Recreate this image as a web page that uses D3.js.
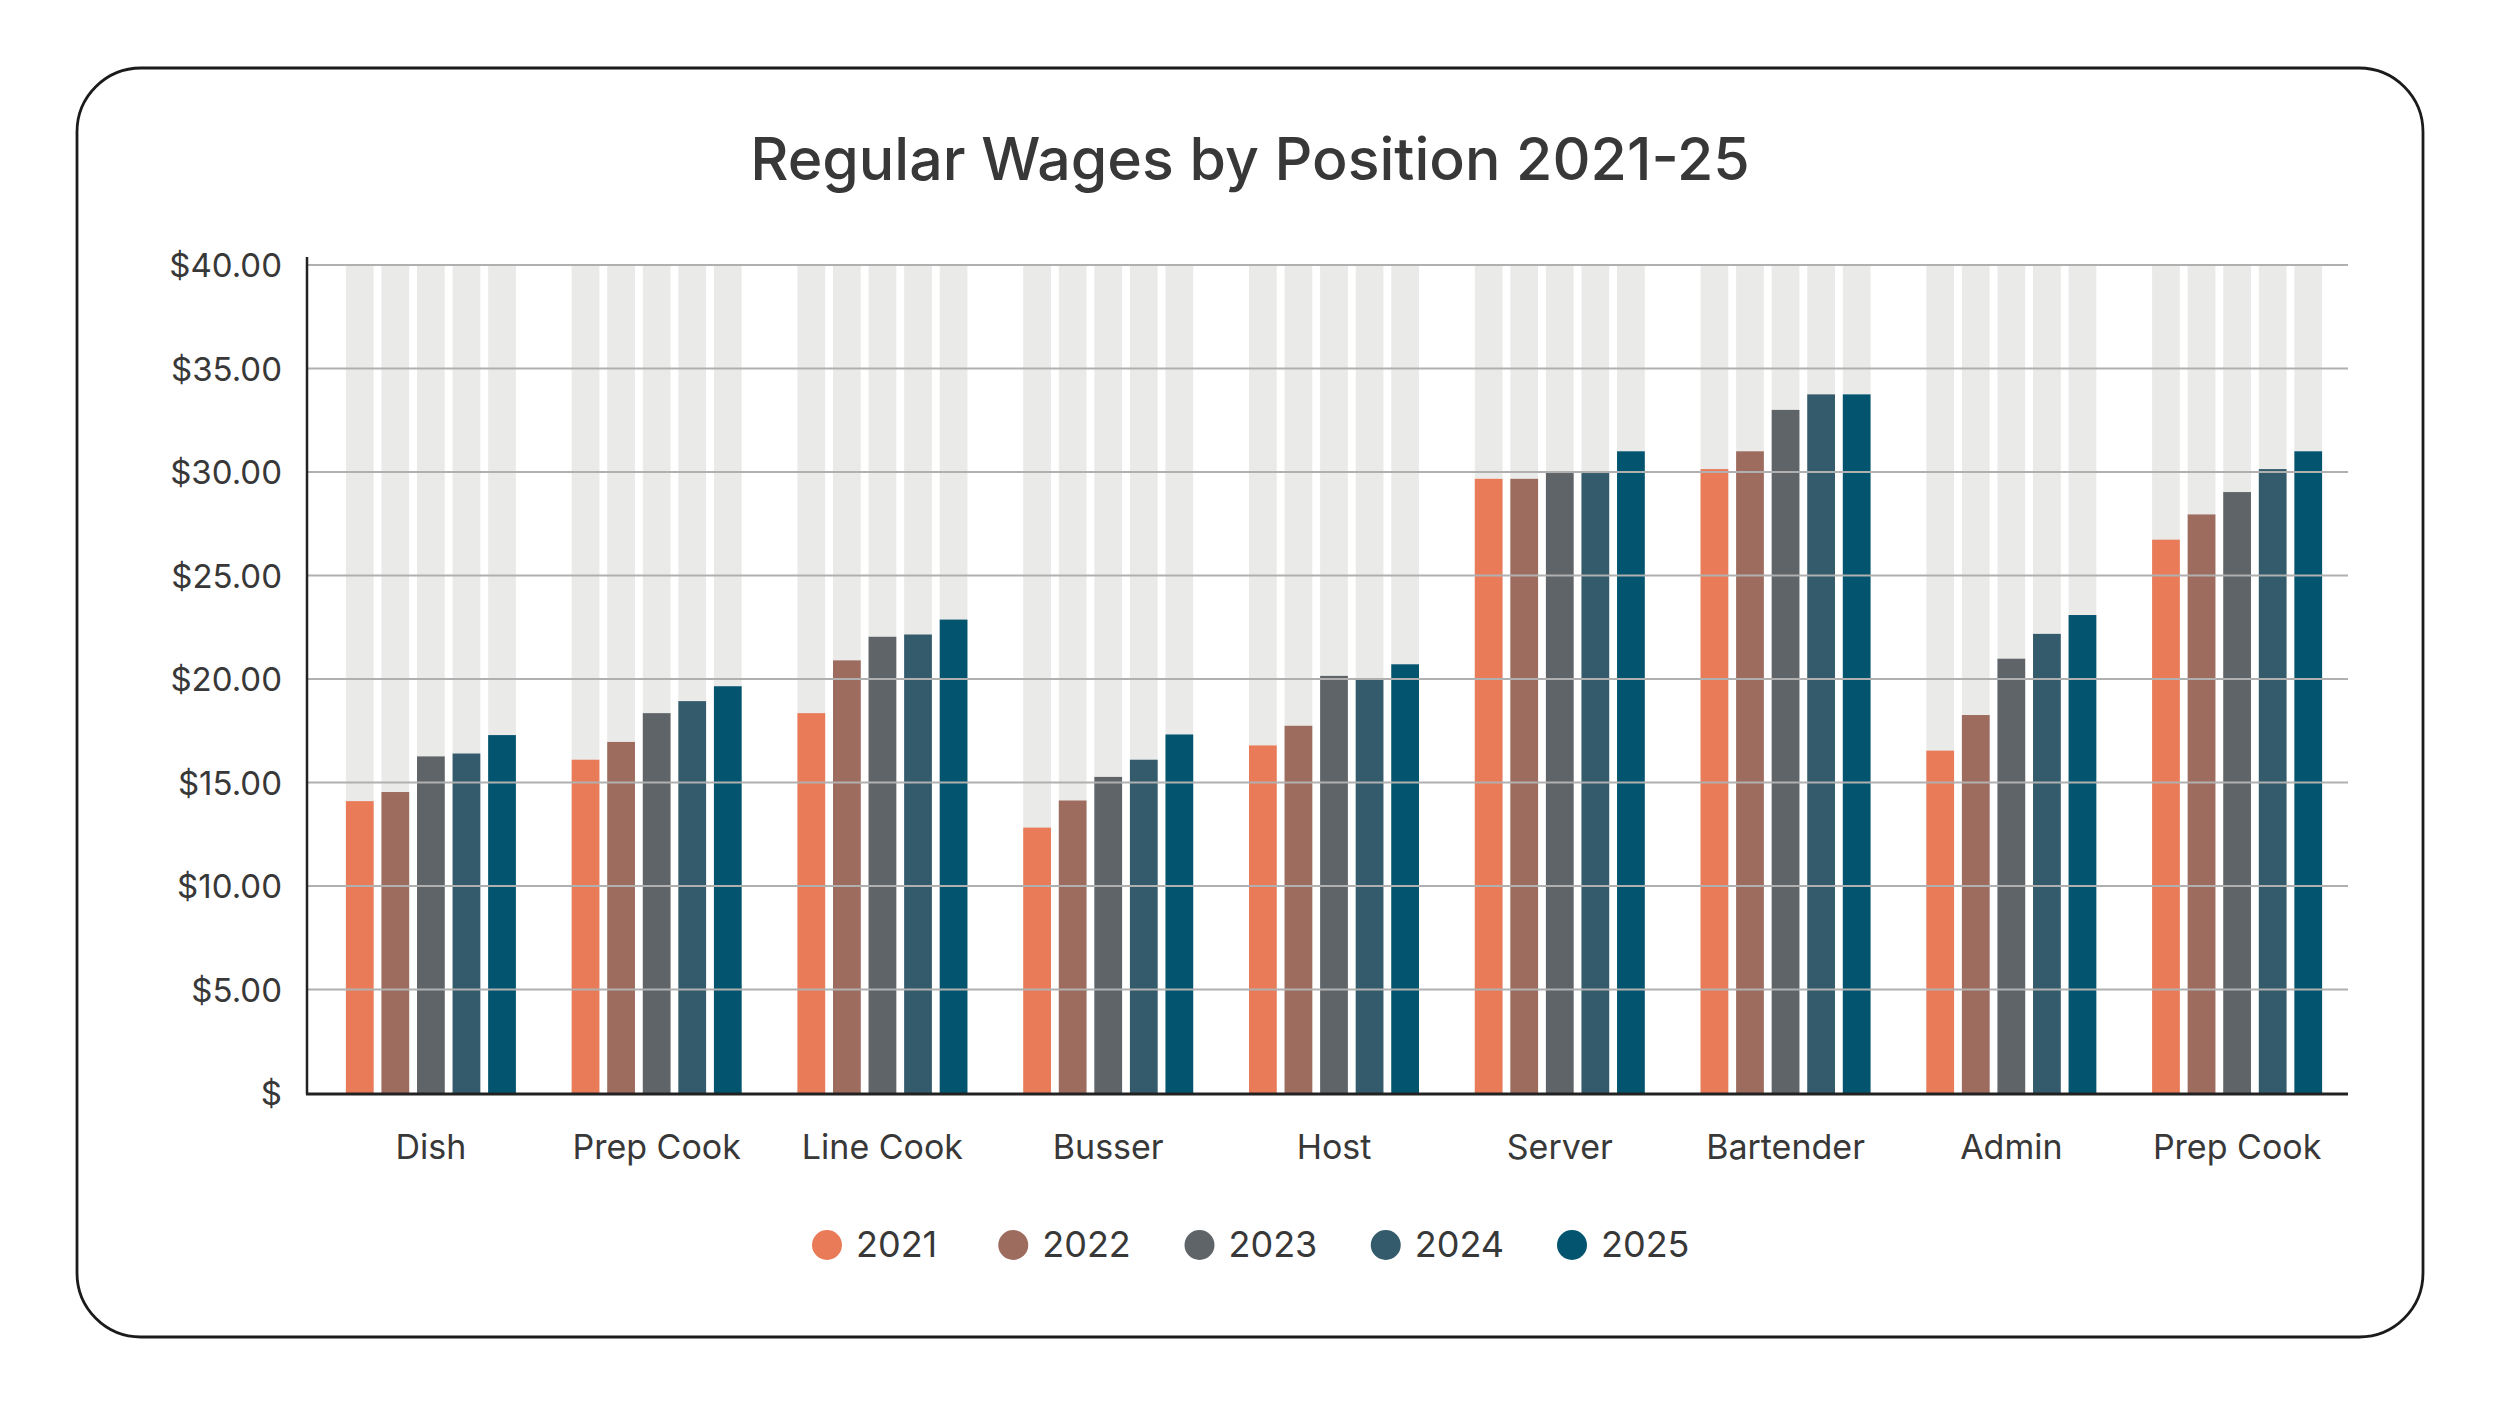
<!DOCTYPE html>
<html>
<head>
<meta charset="utf-8">
<script src="https://cdn.jsdelivr.net/npm/d3@7"></script>
<style>
  html, body { margin: 0; padding: 0; background: #fff; }
  svg { display: block; font-family: Inter, "Open Sans", sans-serif; }
</style>
</head>
<body>
<svg id="chart"></svg>
<script>
// Chart data
const positions = ["Dish", "Prep Cook", "Line Cook", "Busser", "Host", "Server", "Bartender", "Admin", "Prep Cook"];
const years = ["2021", "2022", "2023", "2024", "2025"];
const wages2021 = [14.10, 16.10, 18.35, 12.82, 16.79, 29.67, 30.14, 16.54, 26.73];
const wages2022 = [14.54, 16.96, 20.90, 14.13, 17.74, 29.67, 31.00, 18.26, 27.95];
const wages2023 = [16.26, 18.35, 22.04, 15.27, 20.15, 29.95, 33.00, 20.98, 29.03];
const wages2024 = [16.40, 18.93, 22.15, 16.10, 19.96, 29.95, 33.75, 22.18, 30.14];
const wages2025 = [17.29, 19.65, 22.87, 17.32, 20.71, 31.00, 33.75, 23.09, 31.00];
const yTickValues = [0, 5, 10, 15, 20, 25, 30, 35, 40];
const yearColors = ["#e97b58", "#9e6c5f", "#5e6468", "#335b6b", "#02546f"];

const series = [wages2021, wages2022, wages2023, wages2024, wages2025];

const W = 2500, H = 1406;
const svg = d3.select("#chart").attr("width", W).attr("height", H);

// Card outline
svg.append("rect")
  .attr("x", 77).attr("y", 68)
  .attr("width", 2346).attr("height", 1269)
  .attr("rx", 64).attr("ry", 64)
  .attr("fill", "#fff")
  .attr("stroke", "#1b1b1b")
  .attr("stroke-width", 2.8);

// Title
svg.append("text")
  .attr("x", 1250).attr("y", 180)
  .attr("text-anchor", "middle")
  .style("font-size", "59px")
  .style("font-weight", 500)
  .style("fill", "#383838")
  .text("Regular Wages by Position 2021-25");

const plotLeft = 307, plotRight = 2348;
const plotTop = 265, plotBottom = 1093;

const y = d3.scaleLinear().domain([0, 40]).range([plotBottom, plotTop]);

const x0 = d3.scaleBand()
  .domain(d3.range(positions.length))
  .range([318, 2350]);

const groupWidth = 170;
const x1 = d3.scaleBand()
  .domain(years)
  .range([(x0.bandwidth() - groupWidth) / 2, (x0.bandwidth() + groupWidth) / 2])
  .paddingInner(0.22);

// Grey full-height background bars
const groups = svg.append("g").selectAll("g")
  .data(positions.map((p, i) => i))
  .enter().append("g")
  .attr("transform", i => `translate(${x0(i)},0)`);

groups.selectAll(".bg")
  .data(years)
  .enter().append("rect")
  .attr("class", "bg")
  .attr("x", d => x1(d))
  .attr("y", y(40))
  .attr("width", x1.bandwidth())
  .attr("height", y(0) - y(40))
  .attr("fill", "#eaeae8");

// Gridlines
svg.append("g")
  .selectAll("line")
  .data(yTickValues.filter(d => d > 0))
  .enter().append("line")
  .attr("x1", plotLeft).attr("x2", plotRight)
  .attr("y1", d => y(d)).attr("y2", d => y(d))
  .attr("stroke", "#b0b0b0")
  .attr("stroke-width", 2);

// Data bars
groups.selectAll(".bar")
  .data(i => years.map((yr, k) => ({ yr, k, v: series[k][i] })))
  .enter().append("rect")
  .attr("class", "bar")
  .attr("x", d => x1(d.yr))
  .attr("y", d => y(d.v))
  .attr("width", x1.bandwidth())
  .attr("height", d => y(0) - y(d.v))
  .attr("fill", d => yearColors[d.k]);

// Y axis
const yAxis = d3.axisLeft(y)
  .tickValues(yTickValues)
  .tickSize(0)
  .tickPadding(25)
  .tickFormat(d => d === 0 ? "$" : "$" + d.toFixed(2));

const yAxisG = svg.append("g")
  .attr("transform", `translate(${plotLeft},0)`)
  .call(yAxis);
yAxisG.select(".domain").remove();
yAxisG.selectAll("text")
  .attr("dy", "0.36em")
  .style("font-family", "Inter, sans-serif")
  .style("font-size", "33px")
  .style("fill", "#383838");

svg.append("line")
  .attr("x1", plotLeft).attr("x2", plotLeft)
  .attr("y1", 257).attr("y2", plotBottom + 1)
  .attr("stroke", "#222").attr("stroke-width", 2.5);

svg.append("line")
  .attr("x1", plotLeft - 1).attr("x2", plotRight)
  .attr("y1", plotBottom + 1).attr("y2", plotBottom + 1)
  .attr("stroke", "#222").attr("stroke-width", 3);

// Category labels
svg.append("g")
  .selectAll("text")
  .data(positions)
  .enter().append("text")
  .attr("x", (d, i) => x0(i) + x0.bandwidth() / 2)
  .attr("y", 1159)
  .attr("text-anchor", "middle")
  .style("font-size", "34px")
  .style("fill", "#383838")
  .text(d => d);

// Legend
const legendX = d3.scalePoint().domain(years).range([827, 1572]);
const legend = svg.append("g").selectAll("g")
  .data(years)
  .enter().append("g")
  .attr("transform", d => `translate(${legendX(d)},1245)`);

legend.append("circle")
  .attr("r", 15)
  .attr("fill", (d, i) => yearColors[i]);

legend.append("text")
  .attr("x", 29)
  .attr("y", 12)
  .style("font-size", "36px")
  .style("fill", "#383838")
  .text(d => d);
</script>
</body>
</html>
